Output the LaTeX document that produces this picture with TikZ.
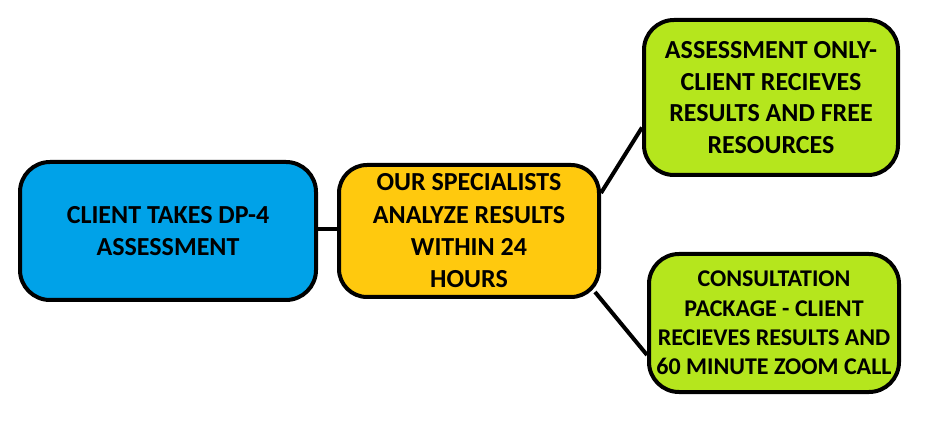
\documentclass[tikz,border=0pt]{standalone}
\usepackage{fontspec}
\setmainfont{Carlito}
\definecolor{pblue}{RGB}{0,162,232}
\definecolor{pyellow}{RGB}{255,201,14}
\definecolor{pgreen}{RGB}{181,230,29}
\tikzset{
  box/.style={draw=black, line width=4pt, rounded corners=30pt, align=center, inner sep=0pt,
    font=\bfseries\fontsize{26}{31.5}\selectfont},
  smallbox/.style={box, font=\bfseries\fontsize{24}{29.3}\selectfont},
  link/.style={draw=black, line width=4pt}
}
\begin{document}
\begin{tikzpicture}[x=1pt,y=1pt]
\useasboundingbox (0,0) rectangle (926,423);
\node[box, fill=pblue, minimum width=296pt, minimum height=138pt] (b) at (168,192)
  {CLIENT TAKES DP-4\\ASSESSMENT};
\node[box, fill=pyellow, minimum width=260pt, minimum height=132pt, rounded corners=28pt,
  font=\bfseries\fontsize{26}{32.3}\selectfont] (y) at (469,192)
  {OUR SPECIALISTS\\ANALYZE RESULTS\\WITHIN 24\\HOURS};
\node[box, fill=pgreen, minimum width=254pt, minimum height=155pt] (tg) at (771,325.5)
  {ASSESSMENT ONLY-\\CLIENT RECIEVES\\RESULTS AND FREE\\RESOURCES};
\node[smallbox, fill=pgreen, minimum width=250pt, minimum height=138pt] (bg) at (774,100)
  {CONSULTATION\\PACKAGE - CLIENT\\RECIEVES RESULTS AND\\60 MINUTE ZOOM CALL};
\draw[link] ([yshift=2pt]b.east) -- ([yshift=2pt]y.west);
\draw[link] ([yshift=38pt]y.east) -- ([yshift=-30pt]tg.west);
\draw[link] ([xshift=-6pt,yshift=-61pt]y.east) -- ([yshift=-32pt]bg.west);
\end{tikzpicture}
\end{document}
